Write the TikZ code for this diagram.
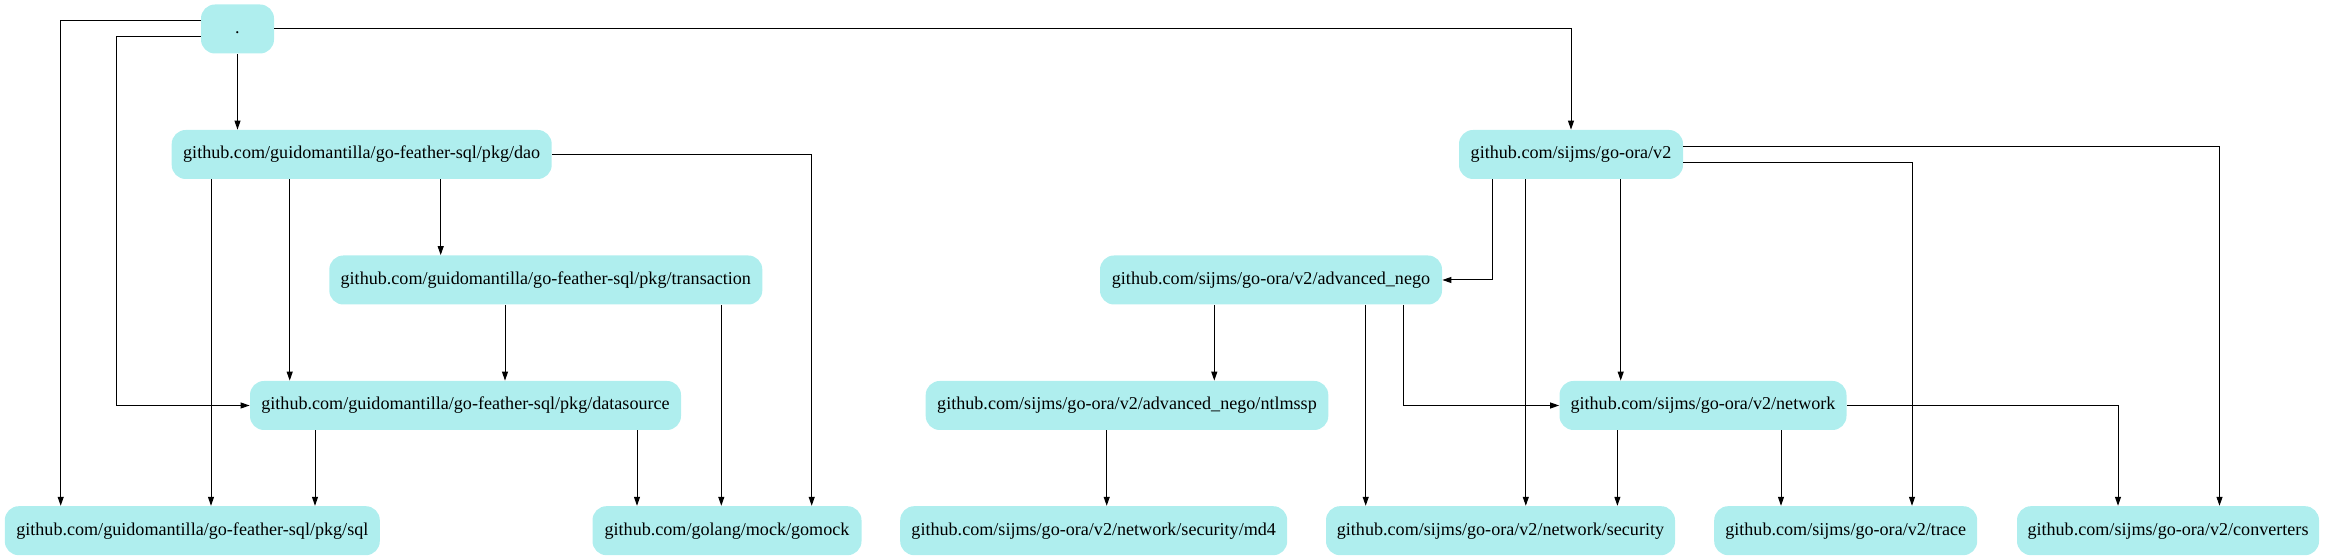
\documentclass[tikz,border=0pt]{standalone}
\usepackage{fontspec}
\setmainfont{Liberation Serif}
\usetikzlibrary{arrows.meta}
\definecolor{pkgfill}{HTML}{AFEEEE}
\begin{document}
\begin{tikzpicture}[x=0.5pt,y=-0.5pt,
  pkg/.style={fill=pkgfill, rounded corners=7pt, minimum height=24.5pt, inner sep=0pt,
    text height=6.4pt, text depth=1.95pt, font=\fontsize{9.05}{11}\selectfont},
  dep/.style={-{Triangle[length=4.5pt,width=3pt]}, line width=0.5pt, black}]
\useasboundingbox (0,0) rectangle (2326,560);
% nodes
\node[pkg, minimum width=36.5pt] (root) at (237.5,29) {.};
\node[pkg, minimum width=190pt] (dao) at (361.7,154.5) {github.com/guidomantilla/go-feather-sql/pkg/dao};
\node[pkg, minimum width=112pt] (v2) at (1571,154.5) {github.com/sijms/go-ora/v2};
\node[pkg, minimum width=216.5pt] (tx) at (545.8,280) {github.com/guidomantilla/go-feather-sql/pkg/transaction};
\node[pkg, minimum width=171pt] (adv) at (1271,280) {github.com/sijms/go-ora/v2/advanced\_nego};
\node[pkg, minimum width=215.5pt] (ds) at (465.5,405.5) {github.com/guidomantilla/go-feather-sql/pkg/datasource};
\node[pkg, minimum width=201.3pt] (ntlm) at (1127,405.5) {github.com/sijms/go-ora/v2/advanced\_nego/ntlmssp};
\node[pkg, minimum width=143.5pt] (net) at (1703,405.5) {github.com/sijms/go-ora/v2/network};
\node[pkg, minimum width=187.5pt] (sql) at (192.3,530.7) {github.com/guidomantilla/go-feather-sql/pkg/sql};
\node[pkg, minimum width=134.5pt] (gomock) at (727,530.7) {github.com/golang/mock/gomock};
\node[pkg, minimum width=193.5pt] (md4) at (1093.7,530.7) {github.com/sijms/go-ora/v2/network/security/md4};
\node[pkg, minimum width=174.5pt] (sec) at (1500.5,530.7) {github.com/sijms/go-ora/v2/network/security};
\node[pkg, minimum width=131.5pt] (trace) at (1845.7,530.7) {github.com/sijms/go-ora/v2/trace};
\node[pkg, minimum width=151pt] (conv) at (2168,530.7) {github.com/sijms/go-ora/v2/converters};
% edges from root
\draw[dep] (root.west |- 0,21) -| (60.7,0 |- sql.north);
\draw[dep] (root.west |- 0,36.7) -| (ds.west -| 116.3,0) -- (ds.west);
\draw[dep] (root.south) -- (root.south |- dao.north);
\draw[dep] (root.east) -| (v2.north);
% dao
\draw[dep] (dao.south -| 211,0) -- (211,0 |- sql.north);
\draw[dep] (dao.south -| 289.7,0) -- (289.7,0 |- ds.north);
\draw[dep] (dao.south -| 440.7,0) -- (440.7,0 |- tx.north);
\draw[dep] (dao.east) -| (811.7,0 |- gomock.north);
% transaction
\draw[dep] (tx.south -| 505,0) -- (505,0 |- ds.north);
\draw[dep] (tx.south -| 721.3,0) -- (721.3,0 |- gomock.north);
% datasource
\draw[dep] (ds.south -| 315,0) -- (315,0 |- sql.north);
\draw[dep] (ds.south -| 637,0) -- (637,0 |- gomock.north);
% v2
\draw[dep] (v2.east |- 0,146.3) -| (2219.5,0 |- conv.north);
\draw[dep] (v2.east |- 0,162.3) -| (1912,0 |- trace.north);
\draw[dep] (v2.south -| 1492.4,0) |- (adv.east);
\draw[dep] (v2.south -| 1525.8,0) -- (1525.8,0 |- sec.north);
\draw[dep] (v2.south -| 1620.7,0) -- (1620.7,0 |- net.north);
% advanced_nego
\draw[dep] (adv.south -| 1214.3,0) -- (1214.3,0 |- ntlm.north);
\draw[dep] (adv.south -| 1365.7,0) -- (1365.7,0 |- sec.north);
\draw[dep] (adv.south -| 1403.4,0) |- (net.west);
% ntlmssp
\draw[dep] (ntlm.south -| 1106.7,0) -- (1106.7,0 |- md4.north);
% network
\draw[dep] (net.south -| 1617.4,0) -- (1617.4,0 |- sec.north);
\draw[dep] (net.south -| 1781,0) -- (1781,0 |- trace.north);
\draw[dep] (net.east) -| (2118,0 |- conv.north);
\end{tikzpicture}
\end{document}
